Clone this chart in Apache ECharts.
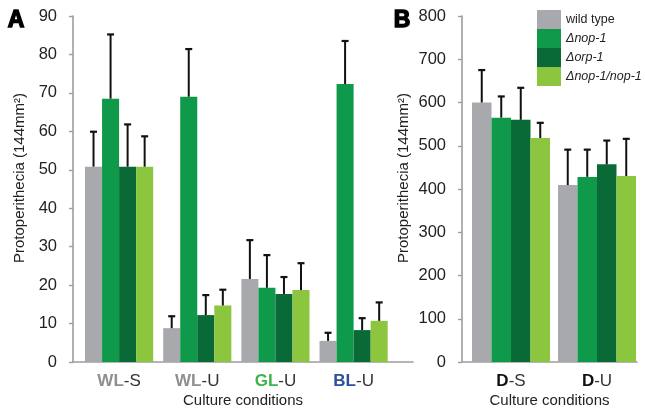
<!DOCTYPE html>
<html>
<head>
<meta charset="utf-8">
<script src="https://cdn.jsdelivr.net/npm/echarts@6/dist/echarts.min.js"></script>
<style>html,body{margin:0;padding:0;background:#fff}#c{width:645px;height:415px}</style>
</head>
<body>
<div id="c"></div>
<script>
// ---- data ----
const seriesNames = ['wild type', '\u0394nop-1', '\u0394orp-1', '\u0394nop-1/nop-1'];
const categoriesA = ['WL-S', 'WL-U', 'GL-U', 'BL-U'];
const wildA = [50.8, 8.8, 21.6, 5.5];
const wildAErr = [9.1, 3.1, 10.1, 2.1];
const nopA = [68.5, 69.0, 19.3, 72.3];
const nopAErr = [16.7, 12.4, 8.5, 11.2];
const orpA = [50.8, 12.2, 17.7, 8.3];
const orpAErr = [11.0, 5.2, 4.4, 3.1];
const compA = [50.8, 14.7, 18.7, 10.7];
const compAErr = [7.9, 4.1, 7.0, 4.8];

const categoriesB = ['D-S', 'D-U'];
const wildB = [600, 409];
const wildBErr = [75, 82];
const nopB = [565, 428];
const nopBErr = [49, 63];
const orpB = [560, 457];
const orpBErr = [74, 55];
const compB = [518, 430];
const compBErr = [35, 86];

const yTicksA = {min: 0, max: 90, interval: 10};
const yTicksB = {min: 0, max: 800, interval: 100};

// ---- style ----
const FONT = '"Liberation Sans", Arial, sans-serif';
const colors = ['#a7a9ac', '#0f9a4b', '#0a6a37', '#8cc63f'];
const axisGray = '#9d9d9d';
const gapA = 0.128, gapB = 0.093;

const valsA = [wildA, nopA, orpA, compA], errsA = [wildAErr, nopAErr, orpAErr, compAErr];
const valsB = [wildB, nopB, orpB, compB], errsB = [wildBErr, nopBErr, orpBErr, compBErr];

function barSeries(k, vals, xi, gap) {
  return {
    type: 'bar', name: seriesNames[k], xAxisIndex: xi, yAxisIndex: xi,
    data: vals, barGap: '0%', barCategoryGap: (gap * 100) + '%',
    itemStyle: {color: colors[k]}, z: 2, animation: false
  };
}
function errSeries(k, vals, errs, xi, gap) {
  return {
    type: 'custom', name: seriesNames[k], xAxisIndex: xi, yAxisIndex: xi, z: 5,
    animation: false, silent: true,
    data: vals.map((v, i) => [i, v, errs[i]]),
    renderItem: function (params, api) {
      const c = api.value(0), v = api.value(1), e = api.value(2);
      const p0 = api.coord([c, v]);
      const p1 = api.coord([c, v + e]);
      const band = api.size([1, 0])[0];
      const bw = band * (1 - gap) / 4;
      const x = p0[0] + (k - 1.5) * bw;
      return {type: 'group', children: [
        {type: 'line', shape: {x1: x, y1: p0[1], x2: x, y2: p1[1]}, style: {stroke: '#111', lineWidth: 2}},
        {type: 'line', shape: {x1: x - 3.5, y1: p1[1], x2: x + 3.5, y2: p1[1]}, style: {stroke: '#111', lineWidth: 2.2}}
      ]};
    }
  };
}

const catRich = {
  wl: {fontFamily: FONT, fontSize: 17, fontWeight: 'bold', color: '#8f8f91'},
  gl: {fontFamily: FONT, fontSize: 17, fontWeight: 'bold', color: '#3db54a'},
  bl: {fontFamily: FONT, fontSize: 17, fontWeight: 'bold', color: '#2d4f9f'},
  d: {fontFamily: FONT, fontSize: 17, fontWeight: 'bold', color: '#111'},
  n: {fontFamily: FONT, fontSize: 17, color: '#333'}
};
function catFmt(v) {
  const parts = v.split('-');
  const key = parts[0].toLowerCase();
  return '{' + key + '|' + parts[0] + '}{n|-' + parts[1] + '}';
}

const TOP = 16, H = 346;
const yName = 'Protoperithecia (144mm\u00b2)';

function axisGridY(idx, ticks, gap) {
  return {
    type: 'value', gridIndex: idx, min: ticks.min, max: ticks.max, interval: ticks.interval,
    axisLine: {show: true, lineStyle: {color: axisGray, width: 1.6}},
    axisTick: {show: true, length: 4, lineStyle: {color: axisGray, width: 1.4}},
    splitLine: {show: false},
    axisLabel: {fontFamily: FONT, fontSize: 16.5, color: '#222', margin: 16},
    name: yName, nameLocation: 'middle', nameGap: gap,
    nameTextStyle: {fontFamily: FONT, fontSize: 15, color: '#222', padding: [0, 0, 0, 22]}
  };
}
function axisGridX(idx) {
  return {
    type: 'category', gridIndex: idx, data: [''],
    axisLine: {show: true, lineStyle: {color: axisGray, width: 1.6}},
    axisTick: {show: false}, axisLabel: {show: false},
    name: 'Culture conditions', nameLocation: 'middle', nameGap: 31,
    nameTextStyle: {fontFamily: FONT, fontSize: 15, color: '#222'}
  };
}
function barX(idx, cats) {
  return {
    type: 'category', gridIndex: idx, data: cats,
    axisLine: {show: false}, axisTick: {show: false},
    axisLabel: {margin: 11, interval: 0, hideOverlap: false, formatter: catFmt, rich: catRich}
  };
}
function barY(idx, ticks) {
  return {type: 'value', gridIndex: idx, min: ticks.min, max: ticks.max, interval: ticks.interval, show: false, splitLine: {show: false}};
}

const series = [];
for (let k = 0; k < 4; k++) series.push(barSeries(k, valsA[k], 1, gapA));
for (let k = 0; k < 4; k++) series.push(barSeries(k, valsB[k], 3, gapB));
for (let k = 0; k < 4; k++) series.push(errSeries(k, valsA[k], errsA[k], 1, gapA));
for (let k = 0; k < 4; k++) series.push(errSeries(k, valsB[k], errsB[k], 3, gapB));

const option = {
  animation: false,
  backgroundColor: '#fff',
  grid: [
    {left: 73, top: TOP, width: 340, height: H},
    {left: 80, top: TOP, width: 312.7, height: H},
    {left: 462, top: TOP, width: 175, height: H},
    {left: 468, top: TOP, width: 172, height: H}
  ],
  xAxis: [axisGridX(0), barX(1, categoriesA), axisGridX(2), barX(3, categoriesB)],
  yAxis: [axisGridY(0, yTicksA, 46), barY(1, yTicksA), axisGridY(2, yTicksB, 51), barY(3, yTicksB)],
  legend: {
    data: seriesNames, orient: 'vertical', left: 537, top: 10,
    itemWidth: 24, itemHeight: 19, itemGap: 0, icon: 'rect', selectedMode: false,
    padding: 0,
    formatter: function (n) { return n === 'wild type' ? n : '{i|' + n + '}'; },
    textStyle: {fontFamily: FONT, fontSize: 12.5, color: '#222', rich: {i: {fontFamily: FONT, fontSize: 12.5, fontStyle: 'italic', color: '#222'}}}
  },
  graphic: [
    {type: 'text', left: 7, top: 8, style: {text: 'A', font: '900 23px ' + FONT, fill: '#000', stroke: '#000', lineWidth: 1.4}},
    {type: 'text', left: 393, top: 8, style: {text: 'B', font: '900 23px ' + FONT, fill: '#000', stroke: '#000', lineWidth: 1.4}}
  ],
  series: series
};
const chart = echarts.init(document.getElementById('c'), null, {renderer: 'canvas'});
chart.setOption(option);
</script>
</body>
</html>
